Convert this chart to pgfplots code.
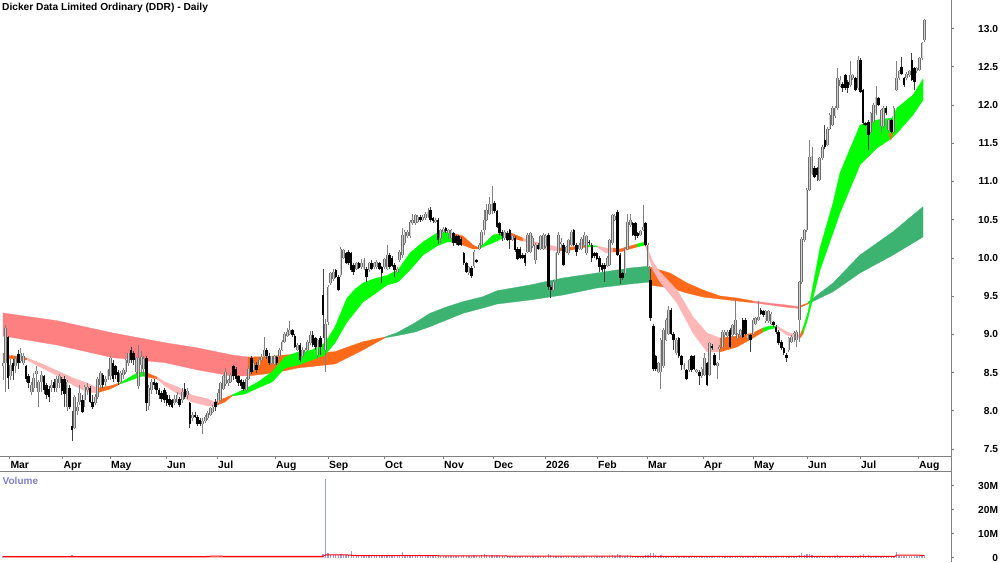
\documentclass[border=0pt]{standalone}
\usepackage{fontspec}
\setmainfont{Liberation Sans}
\usepackage{pgfplots}
\usepackage{pgfplotstable}
\pgfplotsset{compat=1.18}
\definecolor{rgreen}{HTML}{00FF00}
\definecolor{rsea}{HTML}{3CB371}
\definecolor{rsalmon}{HTML}{FF8080}
\definecolor{rpink}{HTML}{FFB6B6}
\definecolor{rorange}{HTML}{FF6A1A}
\definecolor{axgray}{HTML}{808080}
\definecolor{upedge}{HTML}{6E6E6E}
\definecolor{upfill}{HTML}{CFCFCF}
\definecolor{volbar}{HTML}{9C9CE0}
\definecolor{vollab}{HTML}{8080C8}
\pgfplotstableread{
i o h l c v
0 8.58 8.75 8.40 8.62 0.6
1 8.62 9.12 8.25 9.08 0.9
2 8.97 8.98 8.28 8.43 0.8
3 8.45 8.68 8.40 8.60 0.5
4 8.62 8.68 8.40 8.52 0.5
5 8.58 8.72 8.50 8.68 0.4
6 8.74 8.80 8.55 8.62 0.5
7 8.65 8.82 8.62 8.76 0.4
8 8.62 8.76 8.60 8.72 0.4
9 8.58 8.60 8.38 8.42 0.6
10 8.46 8.48 8.30 8.36 0.5
11 8.25 8.38 8.20 8.34 0.4
12 8.30 8.50 8.25 8.43 0.4
13 8.48 8.58 8.30 8.52 0.3
14 8.25 8.40 8.05 8.38 0.5
15 8.38 8.52 8.25 8.47 0.4
16 8.45 8.47 8.22 8.27 0.5
17 8.34 8.36 8.15 8.20 0.5
18 8.28 8.32 8.12 8.18 0.4
19 8.30 8.40 8.25 8.34 0.3
20 8.38 8.42 8.25 8.30 0.4
21 8.30 8.46 8.25 8.42 0.4
22 8.36 8.48 8.30 8.46 0.4
23 8.42 8.44 8.20 8.26 0.5
24 8.42 8.45 8.05 8.22 0.6
25 8.05 8.40 8.00 8.38 0.6
26 8.30 8.34 8.02 8.05 0.7
27 7.80 8.00 7.60 7.75 1.0
28 7.78 8.20 7.76 8.18 0.8
29 8.00 8.12 7.95 8.05 0.5
30 8.12 8.34 8.08 8.23 0.6
31 8.14 8.20 7.97 7.99 0.5
32 8.14 8.34 8.05 8.31 0.5
33 8.27 8.36 8.20 8.31 0.4
34 8.30 8.33 8.10 8.12 0.4
35 8.12 8.20 8.02 8.05 0.4
36 8.10 8.22 8.08 8.18 0.3
37 8.18 8.44 8.15 8.42 0.5
38 8.34 8.52 8.30 8.49 0.5
39 8.47 8.50 8.30 8.34 0.4
40 8.38 8.46 8.32 8.42 0.3
41 8.42 8.55 8.40 8.53 0.4
42 8.45 8.72 8.40 8.69 0.5
43 8.62 8.66 8.38 8.42 0.5
44 8.58 8.60 8.42 8.47 0.4
45 8.51 8.53 8.34 8.38 0.4
46 8.38 8.52 8.36 8.49 0.3
47 8.47 8.56 8.42 8.53 0.3
48 8.51 8.68 8.48 8.66 0.4
49 8.62 8.76 8.58 8.75 0.4
50 8.79 8.84 8.62 8.66 0.5
51 8.75 8.78 8.60 8.66 0.4
52 8.51 8.70 8.48 8.69 0.4
53 8.32 8.86 8.28 8.69 0.6
54 8.60 8.78 8.50 8.70 0.5
55 8.55 8.72 8.45 8.68 0.4
56 8.69 8.72 8.00 8.10 0.9
57 8.06 8.34 8.01 8.30 0.6
58 8.27 8.42 8.22 8.38 0.4
59 8.38 8.42 8.28 8.34 0.3
60 8.36 8.38 8.22 8.27 0.4
61 8.27 8.30 8.16 8.21 0.3
62 8.23 8.26 8.12 8.16 0.3
63 8.27 8.30 8.10 8.14 0.4
64 8.21 8.25 8.06 8.10 0.4
65 8.16 8.20 8.05 8.08 0.3
66 8.14 8.16 8.03 8.05 0.4
67 8.10 8.20 8.08 8.16 0.3
68 8.12 8.24 8.10 8.21 0.3
69 8.16 8.18 8.05 8.08 0.3
70 8.14 8.30 8.10 8.25 0.4
71 8.29 8.36 8.15 8.18 0.5
72 8.20 8.30 8.15 8.26 0.4
73 8.10 8.12 7.78 7.83 0.8
74 7.90 7.98 7.86 7.94 0.4
75 7.95 7.98 7.90 7.92 0.3
76 7.92 7.94 7.80 7.83 0.4
77 7.88 7.90 7.80 7.83 0.3
78 7.83 7.90 7.70 7.87 0.5
79 7.86 7.95 7.84 7.92 0.3
80 7.90 8.00 7.88 7.97 0.3
81 7.95 8.05 7.93 8.03 0.3
82 7.99 8.08 7.97 8.05 0.3
83 8.12 8.15 8.00 8.05 0.4
84 8.10 8.28 8.08 8.23 0.4
85 8.14 8.38 8.12 8.36 0.5
86 8.29 8.47 8.27 8.45 0.5
87 8.35 8.56 8.33 8.51 0.5
88 8.36 8.42 8.33 8.40 0.3
89 8.38 8.50 8.36 8.47 0.4
90 8.58 8.60 8.40 8.45 0.5
91 8.55 8.57 8.38 8.42 0.4
92 8.45 8.47 8.33 8.36 0.4
93 8.40 8.42 8.29 8.32 0.3
94 8.38 8.40 8.26 8.29 0.3
95 8.27 8.44 8.25 8.42 0.4
96 8.42 8.58 8.40 8.55 0.4
97 8.69 8.71 8.48 8.51 0.5
98 8.53 8.66 8.51 8.62 0.4
99 8.60 8.64 8.50 8.53 0.3
100 8.60 8.70 8.58 8.66 0.3
101 8.66 8.74 8.64 8.70 0.3
102 8.71 8.97 8.69 8.80 0.5
103 8.80 8.82 8.68 8.71 0.4
104 8.72 8.76 8.60 8.62 0.4
105 8.62 8.72 8.60 8.71 0.3
106 8.61 8.73 8.59 8.71 0.3
107 8.70 8.72 8.60 8.62 0.3
108 8.71 8.82 8.68 8.80 0.4
109 8.80 8.92 8.78 8.90 0.4
110 8.90 9.03 8.88 9.01 0.5
111 8.98 9.08 8.96 9.03 0.4
112 9.01 9.17 8.99 9.05 0.4
113 9.05 9.07 8.96 8.99 0.3
114 8.98 9.00 8.82 8.84 0.4
115 8.80 8.88 8.78 8.86 0.3
116 8.86 8.88 8.64 8.66 0.5
117 8.71 8.84 8.69 8.80 0.3
118 8.77 8.82 8.75 8.80 0.3
119 8.80 8.92 8.78 8.90 0.3
120 8.88 9.04 8.86 8.99 0.4
121 8.99 9.04 8.84 8.86 0.4
122 8.95 8.97 8.80 8.84 0.4
123 8.73 8.94 8.68 8.92 0.5
124 8.95 8.98 8.73 8.84 0.9
125 9.51 9.86 8.95 9.25 1.5
126 8.80 9.20 8.51 9.14 32.8
127 9.16 9.64 9.12 9.62 1.8
128 9.67 9.82 9.65 9.80 1.2
129 9.72 9.86 9.70 9.82 1.0
130 9.84 9.86 9.73 9.75 1.0
131 9.75 9.77 9.56 9.58 1.3
132 9.77 10.14 9.75 10.12 1.7
133 10.00 10.12 9.98 10.10 1.0
134 10.06 10.08 9.92 9.93 1.0
135 10.08 10.10 9.91 9.93 1.0
136 10.06 10.08 9.82 9.84 2.6
137 9.91 9.93 9.78 9.82 0.9
138 9.86 9.95 9.84 9.93 0.8
139 9.93 9.95 9.85 9.87 0.8
140 9.88 9.98 9.86 9.93 0.7
141 9.86 10.00 9.84 9.97 0.8
142 9.86 9.88 9.69 9.75 1.1
143 9.84 9.95 9.82 9.93 0.8
144 9.93 9.97 9.84 9.86 0.7
145 9.88 9.95 9.86 9.93 0.7
146 9.88 9.97 9.86 9.95 0.7
147 9.93 9.95 9.84 9.86 0.8
148 9.88 9.90 9.67 9.80 1.2
149 9.88 10.00 9.86 9.99 0.8
150 9.86 10.17 9.84 10.04 1.3
151 10.04 10.06 9.86 9.88 1.0
152 10.00 10.02 9.88 9.90 0.8
153 9.91 9.93 9.75 9.84 1.0
154 9.82 9.88 9.80 9.86 0.7
155 9.97 10.10 9.95 10.08 0.9
156 10.04 10.39 10.00 10.30 2.3
157 10.19 10.36 10.17 10.34 1.0
158 10.28 10.36 10.26 10.34 0.8
159 10.28 10.49 10.26 10.47 1.0
160 10.45 10.58 10.43 10.50 0.9
161 10.45 10.58 10.43 10.56 0.7
162 10.47 10.56 10.45 10.54 0.7
163 10.54 10.56 10.47 10.49 0.6
164 10.50 10.56 10.48 10.54 0.6
165 10.52 10.60 10.50 10.58 0.7
166 10.54 10.65 10.52 10.60 0.7
167 10.63 10.66 10.47 10.50 0.9
168 10.52 10.54 10.46 10.48 0.7
169 10.47 10.52 10.45 10.50 0.6
170 10.50 10.52 10.18 10.23 1.2
171 10.26 10.38 10.20 10.36 0.8
172 10.34 10.41 10.32 10.38 0.6
173 10.39 10.41 10.33 10.35 0.5
174 10.32 10.38 10.25 10.36 0.6
175 10.26 10.38 10.24 10.36 0.6
176 10.32 10.34 10.16 10.19 0.8
177 10.28 10.30 10.17 10.19 0.7
178 10.28 10.30 10.15 10.17 0.8
179 10.25 10.27 10.15 10.17 0.7
180 10.06 10.08 9.91 9.93 1.1
181 9.93 9.95 9.80 9.82 0.9
182 9.80 9.90 9.78 9.88 0.6
183 9.87 9.89 9.74 9.76 0.8
184 9.89 10.10 9.87 10.08 1.0
185 9.97 9.99 9.93 9.95 0.6
186 10.12 10.19 10.10 10.17 0.7
187 10.17 10.36 10.15 10.34 1.0
188 10.36 10.62 10.30 10.50 1.4
189 10.50 10.70 10.48 10.63 1.0
190 10.58 10.80 10.56 10.71 0.9
191 10.61 10.94 10.58 10.70 1.3
192 10.72 10.74 10.59 10.61 0.8
193 10.61 10.63 10.39 10.41 1.0
194 10.45 10.47 10.30 10.32 0.8
195 10.34 10.36 10.22 10.28 0.7
196 10.26 10.36 10.24 10.34 0.5
197 10.33 10.35 10.22 10.24 0.6
198 10.36 10.38 10.12 10.24 0.8
199 10.24 10.30 10.22 10.28 0.5
200 10.26 10.28 10.08 10.10 0.7
201 10.12 10.14 9.97 9.99 0.8
202 10.12 10.14 9.98 10.00 0.7
203 10.04 10.06 9.98 10.00 0.5
204 10.04 10.06 9.89 9.93 0.7
205 10.08 10.33 10.06 10.30 0.8
206 10.08 10.34 10.06 10.32 0.7
207 10.15 10.28 10.13 10.26 0.6
208 9.97 10.19 9.92 10.17 0.7
209 10.17 10.19 10.10 10.12 0.5
210 10.12 10.30 10.10 10.28 0.6
211 10.12 10.32 10.10 10.30 0.6
212 10.15 10.31 10.13 10.28 0.6
213 10.30 10.32 9.58 9.62 1.4
214 9.62 9.64 9.47 9.58 1.0
215 9.58 9.71 9.56 9.69 0.7
216 9.71 10.08 9.69 10.06 0.9
217 10.06 10.34 10.04 10.30 0.8
218 10.18 10.26 10.10 10.21 0.5
219 10.17 10.19 9.89 9.91 0.8
220 10.08 10.16 10.06 10.14 0.5
221 10.06 10.25 10.04 10.23 0.6
222 10.17 10.36 10.15 10.34 0.6
223 10.36 10.38 10.15 10.17 0.7
224 10.17 10.19 10.02 10.08 0.6
225 10.12 10.19 10.10 10.17 0.4
226 10.12 10.27 10.10 10.25 0.5
227 10.17 10.34 10.15 10.30 0.6
228 10.06 10.30 10.04 10.28 0.6
229 10.21 10.23 10.17 10.19 0.4
230 10.17 10.19 9.95 10.00 0.7
231 10.06 10.08 10.00 10.02 0.4
232 10.06 10.08 9.97 9.99 0.5
233 10.00 10.02 9.82 9.88 0.7
234 9.91 9.93 9.82 9.84 0.5
235 9.91 9.93 9.69 9.86 0.9
236 9.90 10.02 9.88 10.00 0.5
237 9.91 10.25 9.89 10.23 0.8
238 10.19 10.58 10.17 10.56 1.1
239 10.50 10.58 10.48 10.55 0.6
240 10.60 10.62 10.02 10.04 1.4
241 10.04 10.06 9.66 9.73 1.2
242 9.80 9.82 9.71 9.73 0.6
243 9.80 10.14 9.78 10.12 0.9
244 10.12 10.58 10.10 10.47 1.1
245 10.43 10.58 10.41 10.50 0.7
246 10.45 10.47 10.28 10.30 0.7
247 10.45 10.47 10.23 10.28 0.8
248 10.32 10.34 10.26 10.28 0.5
249 10.30 10.37 10.28 10.35 0.4
250 10.37 10.69 10.35 10.41 0.9
251 10.45 10.47 10.15 10.17 1.0
252 9.88 10.19 9.80 10.17 1.1
253 9.71 9.85 9.17 9.21 1.8
254 9.11 9.13 8.52 8.54 2.0
255 8.71 8.73 8.52 8.54 1.1
256 8.51 8.64 8.49 8.62 0.7
257 8.51 8.95 8.29 8.93 1.2
258 8.58 9.08 8.56 9.06 0.9
259 8.93 9.21 8.91 9.19 0.9
260 9.01 9.37 8.99 9.32 0.9
261 9.32 9.34 8.99 9.01 0.8
262 9.01 9.03 8.79 8.93 0.7
263 8.75 8.95 8.73 8.93 0.6
264 8.95 8.97 8.69 8.71 0.7
265 8.71 8.73 8.53 8.60 0.7
266 8.55 8.62 8.53 8.60 0.4
267 8.53 8.55 8.40 8.42 0.6
268 8.53 8.68 8.51 8.66 0.5
269 8.71 8.73 8.51 8.53 0.6
270 8.71 8.73 8.53 8.55 0.6
271 8.51 8.55 8.49 8.53 0.4
272 8.51 8.53 8.34 8.45 0.6
273 8.45 8.57 8.43 8.55 0.4
274 8.47 8.75 8.45 8.69 0.7
275 8.62 8.64 8.32 8.34 0.9
276 8.47 8.90 8.45 8.88 0.8
277 8.85 8.87 8.80 8.82 0.4
278 8.73 8.75 8.58 8.60 0.5
279 8.58 8.64 8.42 8.62 0.5
280 8.81 8.86 8.66 8.84 0.5
281 8.84 9.05 8.82 9.03 0.6
282 8.99 9.05 8.97 9.03 0.4
283 8.98 9.05 8.96 9.03 0.4
284 9.06 9.08 8.82 8.84 0.6
285 8.99 9.14 8.97 9.12 0.5
286 9.01 9.46 8.99 9.19 0.8
287 8.95 9.02 8.93 9.00 0.4
288 8.99 9.07 8.97 9.05 0.4
289 9.19 9.21 8.95 8.97 0.7
290 9.19 9.21 8.99 9.01 0.6
291 8.95 9.01 8.93 8.99 0.4
292 8.99 9.01 8.77 8.93 0.6
293 9.01 9.21 8.99 9.19 0.6
294 9.14 9.23 9.12 9.21 0.4
295 9.19 9.43 9.17 9.22 0.6
296 9.32 9.34 9.25 9.27 0.4
297 9.30 9.32 9.23 9.25 0.4
298 9.17 9.32 9.15 9.30 0.5
299 9.17 9.32 9.15 9.30 0.5
300 9.14 9.29 9.12 9.27 0.4
301 9.16 9.18 9.10 9.12 0.4
302 9.10 9.12 9.01 9.03 0.5
303 9.03 9.05 8.86 8.88 0.6
304 8.90 8.92 8.80 8.82 0.5
305 8.82 8.84 8.73 8.75 0.5
306 8.73 8.75 8.64 8.69 0.5
307 8.79 8.97 8.77 8.95 0.6
308 8.90 8.99 8.88 8.97 0.5
309 9.00 9.04 8.90 9.02 0.5
310 8.93 9.05 8.84 9.03 0.7
311 9.19 9.70 8.90 9.68 1.3
312 9.68 10.27 9.66 10.25 1.8
313 10.23 10.38 10.21 10.36 1.2
314 10.36 10.91 10.34 10.89 1.6
315 10.89 11.54 10.87 11.32 1.4
316 11.10 11.45 11.08 11.33 1.0
317 11.18 11.20 11.04 11.06 0.9
318 11.17 11.19 11.00 11.08 0.8
319 11.02 11.32 11.00 11.30 0.8
320 11.30 11.48 11.28 11.45 0.9
321 11.54 11.74 11.43 11.45 0.8
322 11.48 11.71 11.46 11.69 0.8
323 11.69 11.89 11.67 11.87 0.9
324 11.74 11.98 11.72 11.96 0.7
325 11.85 11.98 11.83 11.96 0.6
326 11.96 12.48 11.94 12.35 1.2
327 12.25 12.38 12.23 12.33 0.6
328 12.28 12.30 12.17 12.22 0.6
329 12.39 12.41 12.20 12.22 0.7
330 12.30 12.32 12.15 12.22 0.6
331 12.26 12.57 12.24 12.39 0.8
332 12.35 12.41 12.33 12.39 0.5
333 12.35 12.37 12.18 12.20 0.6
334 12.22 12.64 12.20 12.59 0.8
335 12.59 12.61 12.15 12.17 1.3
336 12.19 12.21 11.74 11.76 1.6
337 11.76 11.78 11.72 11.74 0.6
338 11.78 11.80 11.41 11.61 1.2
339 11.65 11.91 11.63 11.89 0.8
340 11.78 12.02 11.76 12.00 0.7
341 11.89 12.25 11.87 12.11 0.8
342 12.09 12.11 11.98 12.00 0.6
343 11.72 11.95 11.63 11.93 0.7
344 11.72 11.98 11.70 11.96 0.6
345 11.96 11.98 11.87 11.89 0.5
346 11.67 11.82 11.65 11.80 0.6
347 11.80 11.82 11.63 11.65 0.7
348 11.65 11.98 11.63 11.96 0.7
349 12.20 12.57 12.18 12.35 2.2
350 12.35 12.46 12.33 12.44 0.7
351 12.50 12.63 12.39 12.41 0.7
352 12.35 12.37 12.24 12.26 0.6
353 12.35 12.43 12.33 12.41 0.5
354 12.39 12.46 12.37 12.44 0.5
355 12.59 12.68 12.31 12.33 0.9
356 12.48 12.50 12.20 12.30 0.8
357 12.44 12.50 12.42 12.48 0.5
358 12.46 12.63 12.44 12.61 0.7
359 12.61 12.83 12.59 12.81 0.8
360 12.85 13.12 12.83 13.11 1.0
}\bars
\begin{document}
\begin{tikzpicture}[x=1pt,y=1pt]
\useasboundingbox (0,0) rectangle (1000,562);
\begin{axis}[
  at={(0pt,105.3pt)}, anchor=south west, scale only axis,
  width=951.7pt, height=456.7pt,
  xmin=0, xmax=951.7, ymin=7.399, ymax=13.373,
  axis x line*=bottom, axis y line*=right,
  axis line style={draw=axgray,line width=1pt,-},
  tick style={draw=axgray,line width=.7pt},
  major tick length=2.5pt, tick align=outside,
  xtick={9.3,62.5,110,166,217,275,328,384,443,493,545,597,647,703,753,807,860,918},
  xticklabels={Mar,Apr,May,Jun,Jul,Aug,Sep,Oct,Nov,Dec,2026,Feb,Mar,Apr,May,Jun,Jul,Aug},
  ytick={7.5,8,8.5,9,9.5,10,10.5,11,11.5,12,12.5,13},
  yticklabels={7.5,8.0,8.5,9.0,9.5,10.0,10.5,11.0,11.5,12.0,12.5,13.0},
  xticklabel style={font=\bfseries\fontsize{10.4}{12}\selectfont,anchor=north west,inner sep=0pt,xshift=1pt,yshift=-1.5pt},
  yticklabel style={font=\bfseries\fontsize{10.2}{12}\selectfont,anchor=east,inner sep=0pt,xshift=44pt},
]
% slow ribbon
\addplot[fill=rsalmon,draw=rsalmon,line width=.3pt,forget plot] coordinates {(3,9.279)(57,9.178)(113,9.017)(165,8.890)(198,8.821)(232,8.729)(248,8.703)(248,8.455)(232,8.455)(198,8.533)(165,8.629)(113,8.694)(57,8.860)(3,8.978)} --cycle;
\addplot[fill=rorange,draw=rorange,line width=.3pt,forget plot] coordinates {(248,8.703)(265,8.707)(285,8.729)(298,8.742)(335,8.773)(363,8.903)(385,8.965)(385,8.955)(363,8.795)(335,8.612)(298,8.560)(285,8.524)(265,8.481)(248,8.455)} --cycle;
\addplot[fill=rsea,draw=rsea,line width=.3pt,forget plot] coordinates {(385,8.965)(397,9.021)(415,9.150)(430,9.275)(447,9.360)(463,9.427)(483,9.492)(497,9.570)(530,9.645)(563,9.737)(597,9.802)(630,9.867)(650,9.893)(650,9.684)(630,9.658)(597,9.606)(563,9.514)(530,9.449)(497,9.396)(483,9.344)(463,9.275)(447,9.190)(430,9.100)(415,9.030)(397,8.982)(385,8.955)} --cycle;
\addplot[fill=rorange,draw=rorange,line width=.3pt,forget plot] coordinates {(650,9.880)(670,9.802)(687,9.671)(703,9.580)(720,9.501)(737,9.475)(753,9.436)(753,9.413)(737,9.436)(720,9.462)(703,9.488)(687,9.540)(670,9.606)(650,9.645)} --cycle;
\addplot[fill=rsalmon,draw=rsalmon,line width=.3pt,forget plot] coordinates {(753,9.436)(770,9.406)(787,9.383)(798,9.361)(798,9.340)(787,9.353)(770,9.383)(753,9.413)} --cycle;
\addplot[fill=rorange,draw=rorange,line width=.3pt,forget plot] coordinates {(798,9.361)(808,9.410)(808,9.397)(798,9.340)} --cycle;
\addplot[fill=rsea,draw=rsea,line width=.3pt,forget plot] coordinates {(808,9.420)(833,9.671)(860,10.037)(893,10.342)(923,10.669)(923,10.273)(893,10.037)(860,9.802)(833,9.557)(808,9.400)} --cycle;
% fast ribbon
\addplot[fill=rorange,draw=rorange,line width=.3pt,forget plot] coordinates {(3,8.730)(15,8.717)(27,8.690)(27,8.664)(15,8.677)(3,8.690)} --cycle;
\addplot[fill=rpink,draw=rpink,line width=.3pt,forget plot] coordinates {(27,8.690)(40,8.625)(60,8.507)(73,8.429)(87,8.363)(97,8.298)(97,8.233)(87,8.246)(73,8.337)(60,8.442)(40,8.573)(27,8.664)} --cycle;
\addplot[fill=rorange,draw=rorange,line width=.3pt,forget plot] coordinates {(97,8.298)(110,8.324)(120,8.363)(120,8.350)(110,8.285)(97,8.233)} --cycle;
\addplot[fill=rgreen,draw=rgreen,line width=.3pt,forget plot] coordinates {(120,8.363)(137,8.494)(143,8.507)(147,8.494)(147,8.442)(143,8.455)(137,8.429)(120,8.350)} --cycle;
\addplot[fill=rorange,draw=rorange,line width=.3pt,forget plot] coordinates {(147,8.494)(157,8.442)(157,8.416)(147,8.442)} --cycle;
\addplot[fill=rpink,draw=rpink,line width=.3pt,forget plot] coordinates {(157,8.442)(165,8.376)(178,8.311)(192,8.206)(208,8.154)(215,8.115)(215,8.062)(208,8.062)(192,8.115)(178,8.219)(165,8.324)(157,8.416)} --cycle;
\addplot[fill=rorange,draw=rorange,line width=.3pt,forget plot] coordinates {(215,8.115)(225,8.167)(232,8.206)(232,8.193)(225,8.115)(215,8.062)} --cycle;
\addplot[fill=rgreen,draw=rgreen,line width=.3pt,forget plot] coordinates {(232,8.206)(245,8.285)(258,8.376)(272,8.507)(285,8.703)(298,8.769)(312,8.795)(325,8.887)(335,9.096)(347,9.475)(355,9.590)(363,9.671)(375,9.730)(387,9.770)(398,9.841)(410,10.064)(423,10.207)(437,10.325)(447,10.338)(452,10.325)(452,10.207)(447,10.207)(437,10.155)(423,10.037)(410,9.841)(398,9.684)(387,9.645)(375,9.530)(363,9.423)(355,9.290)(347,9.161)(335,8.887)(325,8.730)(312,8.664)(298,8.599)(285,8.559)(272,8.376)(258,8.298)(245,8.219)(232,8.193)} --cycle;
\addplot[fill=rorange,draw=rorange,line width=.3pt,forget plot] coordinates {(452,10.325)(463,10.286)(473,10.168)(479,10.129)(479,10.116)(473,10.116)(463,10.168)(452,10.207)} --cycle;
\addplot[fill=rgreen,draw=rgreen,line width=.3pt,forget plot] coordinates {(479,10.129)(485,10.195)(493,10.299)(503,10.325)(511,10.325)(511,10.260)(503,10.260)(493,10.195)(485,10.155)(479,10.116)} --cycle;
\addplot[fill=rorange,draw=rorange,line width=.3pt,forget plot] coordinates {(511,10.325)(523,10.260)(523,10.221)(511,10.260)} --cycle;
\addplot[fill=rpink,draw=rpink,line width=.3pt,forget plot] coordinates {(523,10.260)(530,10.221)(547,10.181)(560,10.129)(560,10.090)(547,10.103)(530,10.195)(523,10.221)} --cycle;
\addplot[fill=rorange,draw=rorange,line width=.3pt,forget plot] coordinates {(560,10.129)(572,10.142)(586,10.168)(586,10.142)(572,10.103)(560,10.090)} --cycle;
\addplot[fill=rgreen,draw=rgreen,line width=.3pt,forget plot] coordinates {(586,10.168)(597,10.155)(597,10.142)(586,10.142)} --cycle;
\addplot[fill=rpink,draw=rpink,line width=.3pt,forget plot] coordinates {(597,10.155)(606,10.129)(613,10.129)(613,10.077)(606,10.064)(597,10.142)} --cycle;
\addplot[fill=rorange,draw=rorange,line width=.3pt,forget plot] coordinates {(613,10.129)(620,10.116)(630,10.155)(637,10.181)(637,10.142)(630,10.116)(620,10.077)(613,10.077)} --cycle;
\addplot[fill=rgreen,draw=rgreen,line width=.3pt,forget plot] coordinates {(637,10.181)(645,10.207)(645,10.168)(637,10.142)} --cycle;
\addplot[fill=rpink,draw=rpink,line width=.3pt,forget plot] coordinates {(645,10.207)(653,9.946)(660,9.815)(677,9.580)(693,9.227)(707,9.017)(720,8.952)(720,8.769)(707,8.769)(693,9.017)(677,9.410)(660,9.684)(653,9.841)(645,10.168)} --cycle;
\addplot[fill=rorange,draw=rorange,line width=.3pt,forget plot] coordinates {(720,8.952)(737,8.978)(753,9.017)(763,9.083)(763,9.030)(753,8.952)(737,8.834)(720,8.769)} --cycle;
\addplot[fill=rgreen,draw=rgreen,line width=.3pt,forget plot] coordinates {(763,9.083)(770,9.109)(777,9.109)(777,9.083)(770,9.070)(763,9.030)} --cycle;
\addplot[fill=rpink,draw=rpink,line width=.3pt,forget plot] coordinates {(777,9.109)(787,9.030)(793,9.004)(800,8.991)(800,8.952)(793,8.965)(787,8.991)(777,9.083)} --cycle;
\addplot[fill=rorange,draw=rorange,line width=.3pt,forget plot] coordinates {(800,8.991)(803,9.083)(803,9.004)(800,8.952)} --cycle;
\addplot[fill=rgreen,draw=rgreen,line width=.3pt,forget plot] coordinates {(803,9.083)(808,9.292)(820,10.129)(833,10.718)(840,11.110)(860,11.738)(877,11.804)(892,11.830)(897,11.960)(913,12.130)(923,12.340)(923,12.065)(913,11.869)(897,11.633)(892,11.568)(877,11.437)(860,11.215)(840,10.587)(833,10.325)(820,9.841)(808,9.214)(803,9.004)} --cycle;
\addplot[fill=rorange,draw=rorange,line width=.3pt,forget plot] coordinates {(889,11.62)(893,11.64)(891,11.54)} --cycle;
% candles: wicks
\addplot[draw=none,mark=none,forget plot,error bars/.cd,y dir=plus,y explicit,error mark=none,error bar style={draw=gray,line width=.9pt}] table[x expr={\thisrow{c}>=\thisrow{o}?3+2.56*\thisrow{i}:nan},y=l,y error plus expr=\thisrow{h}-\thisrow{l}] {\bars};
\addplot[draw=none,mark=none,forget plot,error bars/.cd,y dir=plus,y explicit,error mark=none,error bar style={draw=black!75,line width=.9pt}] table[x expr={\thisrow{c}<\thisrow{o}?3+2.56*\thisrow{i}:nan},y=l,y error plus expr=\thisrow{h}-\thisrow{l}] {\bars};
% candles: bodies
\addplot[draw=none,mark=none,forget plot,error bars/.cd,y dir=plus,y explicit,error mark=none,error bar style={draw=upedge,line width=2.7pt}] table[x expr={\thisrow{c}>=\thisrow{o}?3+2.56*\thisrow{i}:nan},y=o,y error plus expr={max(\thisrow{c}-\thisrow{o},0.02)}] {\bars};
\addplot[draw=none,mark=none,forget plot,error bars/.cd,y dir=plus,y explicit,error mark=none,error bar style={draw=upfill,line width=1pt}] table[x expr={\thisrow{c}>=\thisrow{o}?3+2.56*\thisrow{i}:nan},y=o,y error plus expr={max(\thisrow{c}-\thisrow{o},0.02)}] {\bars};
\addplot[draw=none,mark=none,forget plot,error bars/.cd,y dir=plus,y explicit,error mark=none,error bar style={draw=black,line width=2.5pt}] table[x expr={\thisrow{c}<\thisrow{o}?3+2.56*\thisrow{i}:nan},y=c,y error plus expr={max(\thisrow{o}-\thisrow{c},0.02)}] {\bars};
\end{axis}
\begin{axis}[
  at={(0pt,0pt)}, anchor=south west, scale only axis,
  width=951.7pt, height=90.3pt,
  xmin=0, xmax=951.7, ymin=-1.8, ymax=35.86,
  axis x line*=top, axis y line*=right,
  axis line style={draw=axgray,line width=1pt,-},
  tick style={draw=axgray,line width=.7pt},
  major tick length=2.5pt, tick align=outside,
  xtick=\empty,
  ytick={0,10,20,30},
  yticklabels={0,10M,20M,30M},
  yticklabel style={font=\bfseries\fontsize{10.2}{12}\selectfont,anchor=east,inner sep=0pt,xshift=44pt},
]
\addplot[ycomb,draw=volbar,line width=1.3pt,mark=none,forget plot] table[x expr=3+2.56*\thisrow{i},y=v] {\bars};
\addplot[draw=rpink,line width=1pt,mark=none,forget plot] coordinates {(3,0.1)(325,0.1)};
\addplot[draw=red,line width=1pt,mark=none,forget plot] coordinates {(3,0.45)(205,0.45)(212,0.65)(222,0.65)(225,0.5)(288,0.5)(302,0.55)(323,0.6)(326,1.2)(345,1.2)(356,0.9)(400,0.9)(460,0.75)(560,0.65)(700,0.55)(880,0.55)(895,0.55)(897,1.1)(924,1.0)};
\end{axis}
\draw[axgray,line width=1pt] (951.7,90.3)--(951.7,105.3);
\node[anchor=base west,inner sep=0pt,font=\bfseries\fontsize{10.2}{12}\selectfont] at (2,551.5) {Dicker Data Limited Ordinary (DDR) - Daily};
\node[anchor=base west,inner sep=0pt,font=\bfseries\fontsize{10}{12}\selectfont,text=vollab] at (2.5,77.5) {Volume};
\end{tikzpicture}
\end{document}
